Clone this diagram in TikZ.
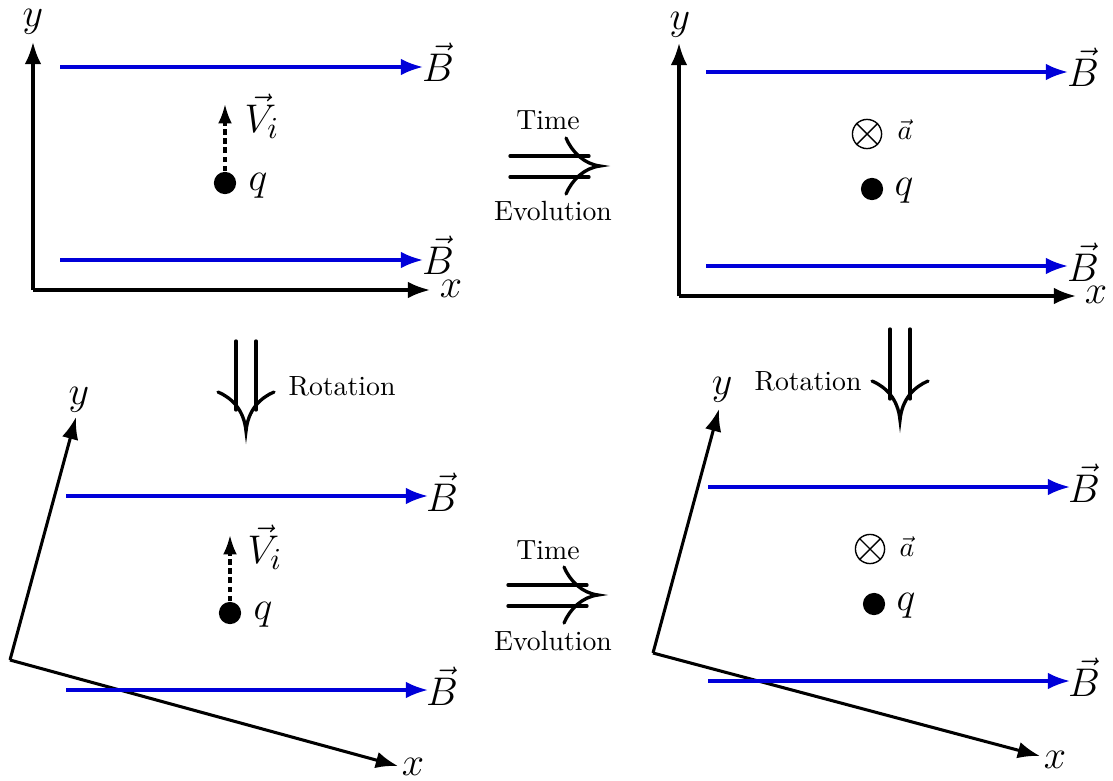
\documentclass[tikz,border=0pt]{standalone}
\usetikzlibrary{arrows.meta}
\begin{document}
\begin{tikzpicture}[x=0.36pt,y=-0.36pt,
  axis/.style={line width=1.1pt,-{Latex[length=8pt,width=6pt]}},
  bfield/.style={line width=1.1pt,blue!85!black,-{Latex[length=8pt,width=6pt]}},
  vel/.style={line width=1.1pt,dash pattern=on 2pt off 1.3pt,-{Latex[length=7pt,width=5pt]}},
  dbl/.style={line width=1.2pt,line cap=round},
  lbl/.style={inner sep=0pt,font=\fontsize{15.5}{18}\selectfont},
  txt/.style={inner sep=0pt,font=\normalsize},
  charge/.style={circle,fill=black,minimum size=8pt,inner sep=0pt},
  otim/.style={circle,draw,line width=0.5pt,minimum size=10.5pt,inner sep=0pt}]
\useasboundingbox (0,0) rectangle (1113,780);

% ---------- top-left panel
\coordinate (O1) at (33,290);
\coordinate (Y1) at (33,42);
\coordinate (X1) at (430,290);
\draw[axis] (O1) -- (Y1);
\draw[axis] (O1) -- (X1);
\node[lbl] (y1) at (33,22) {$y$};
\node[lbl] (x1) at (451,289) {$x$};
\coordinate (b1s) at (60,67); \coordinate (b1e) at (423,67);
\draw[bfield] (b1s) -- (b1e);
\node[lbl] (B1) at (438,62) {$\vec B$};
\coordinate (b2s) at (60,260); \coordinate (b2e) at (423,260);
\draw[bfield] (b2s) -- (b2e);
\node[lbl] (B2) at (438,255) {$\vec B$};
\node[charge] (q1) at (225,183) {};
\node[lbl] (q1l) at (258,186) {$q$};
\coordinate (v1) at (225,104);
\draw[vel] (q1.north) -- (v1);
\node[lbl] (V1) at (262,116) {$\vec V_i$};

% ---------- top time arrow
\coordinate (T1a) at (510,156); \coordinate (T1b) at (589,156);
\coordinate (T1c) at (510,177); \coordinate (T1d) at (589,177);
\coordinate (T1tip) at (600,166);
\draw[dbl] (T1a) -- (T1b);
\draw[dbl] (T1c) -- (T1d);
\draw[dbl] (566,138) .. controls (572,152) and (584,164) .. (T1tip)
            .. controls (584,168) and (572,180) .. (566,194);
\node[txt] (time1) at (548,120) {Time};
\node[txt] (evo1) at (553,211) {Evolution};

% ---------- top-right panel
\coordinate (O2) at (679,296);
\coordinate (Y2) at (679,43);
\coordinate (X2) at (1076,296);
\draw[axis] (O2) -- (Y2);
\draw[axis] (O2) -- (X2);
\node[lbl] (y2) at (680,25) {$y$};
\node[lbl] (x2) at (1096,295) {$x$};
\coordinate (b3s) at (706,72); \coordinate (b3e) at (1068,72);
\draw[bfield] (b3s) -- (b3e);
\node[lbl] (B3) at (1083,67) {$\vec B$};
\coordinate (b4s) at (706,266); \coordinate (b4e) at (1068,266);
\draw[bfield] (b4s) -- (b4e);
\node[lbl] (B4) at (1083,262) {$\vec B$};
\node[otim] (a1) at (867,134) {};
\draw[line width=0.5pt] (a1.north west) -- (a1.south east) (a1.north east) -- (a1.south west);
\node[inner sep=0pt,font=\normalsize] (a1l) at (905,130) {$\vec a$};
\node[charge] (q2) at (872,189) {};
\node[lbl] (q2l) at (904,191) {$q$};

% ---------- left rotation arrow
\coordinate (R1a) at (236,341); \coordinate (R1b) at (236,410);
\coordinate (R1c) at (256,341); \coordinate (R1d) at (256,410);
\coordinate (R1tip) at (246,431);
\draw[dbl] (R1a) -- (R1b);
\draw[dbl] (R1c) -- (R1d);
\draw[dbl] (218,392) .. controls (232,398) and (244,410) .. (R1tip)
            .. controls (248,410) and (260,398) .. (274,392);
\node[txt] (rot1) at (342,386) {Rotation};

% ---------- right rotation arrow
\coordinate (R2a) at (890,329); \coordinate (R2b) at (890,399);
\coordinate (R2c) at (910,329); \coordinate (R2d) at (910,399);
\coordinate (R2tip) at (900,420);
\draw[dbl] (R2a) -- (R2b);
\draw[dbl] (R2c) -- (R2d);
\draw[dbl] (872,381) .. controls (886,387) and (898,399) .. (R2tip)
            .. controls (902,399) and (914,387) .. (928,381);
\node[txt] (rot2) at (808,381) {Rotation};

% ---------- bottom-left panel
\coordinate (O3) at (10,660);
\coordinate (Y3) at (76,417);
\coordinate (X3) at (398,766);
\draw[axis] (O3) -- (Y3);
\draw[axis] (O3) -- (X3);
\node[lbl] (y3) at (79,400) {$y$};
\node[lbl] (x3) at (413,767) {$x$};
\coordinate (b5s) at (66,496); \coordinate (b5e) at (428,496);
\draw[bfield] (b5s) -- (b5e);
\node[lbl] (B5) at (442,492) {$\vec B$};
\coordinate (b6s) at (66,690); \coordinate (b6e) at (428,690);
\draw[bfield] (b6s) -- (b6e);
\node[lbl] (B6) at (442,686) {$\vec B$};
\node[charge] (q3) at (230,613) {};
\node[lbl] (q3l) at (263,615) {$q$};
\coordinate (v3) at (230,535);
\draw[vel] (q3.north) -- (v3);
\node[lbl] (V3) at (265,547) {$\vec V_i$};

% ---------- bottom time arrow
\coordinate (T2a) at (508,585); \coordinate (T2b) at (587,585);
\coordinate (T2c) at (508,606); \coordinate (T2d) at (587,606);
\coordinate (T2tip) at (598,595);
\draw[dbl] (T2a) -- (T2b);
\draw[dbl] (T2c) -- (T2d);
\draw[dbl] (564,567) .. controls (570,581) and (582,593) .. (T2tip)
            .. controls (582,597) and (570,609) .. (564,623);
\node[txt] (time2) at (548,550) {Time};
\node[txt] (evo2) at (553,641) {Evolution};

% ---------- bottom-right panel
\coordinate (O4) at (653,653);
\coordinate (Y4) at (719,409);
\coordinate (X4) at (1040,756);
\draw[axis] (O4) -- (Y4);
\draw[axis] (O4) -- (X4);
\node[lbl] (y4) at (722,390) {$y$};
\node[lbl] (x4) at (1055,760) {$x$};
\coordinate (b7s) at (708,487); \coordinate (b7e) at (1070,487);
\draw[bfield] (b7s) -- (b7e);
\node[lbl] (B7) at (1084,483) {$\vec B$};
\coordinate (b8s) at (708,681); \coordinate (b8e) at (1070,681);
\draw[bfield] (b8s) -- (b8e);
\node[lbl] (B8) at (1084,677) {$\vec B$};
\node[otim] (a2) at (870,549) {};
\draw[line width=0.5pt] (a2.north west) -- (a2.south east) (a2.north east) -- (a2.south west);
\node[inner sep=0pt,font=\normalsize] (a2l) at (907,547) {$\vec a$};
\node[charge] (q4) at (874,604) {};
\node[lbl] (q4l) at (906,606) {$q$};
\end{tikzpicture}
\end{document}
